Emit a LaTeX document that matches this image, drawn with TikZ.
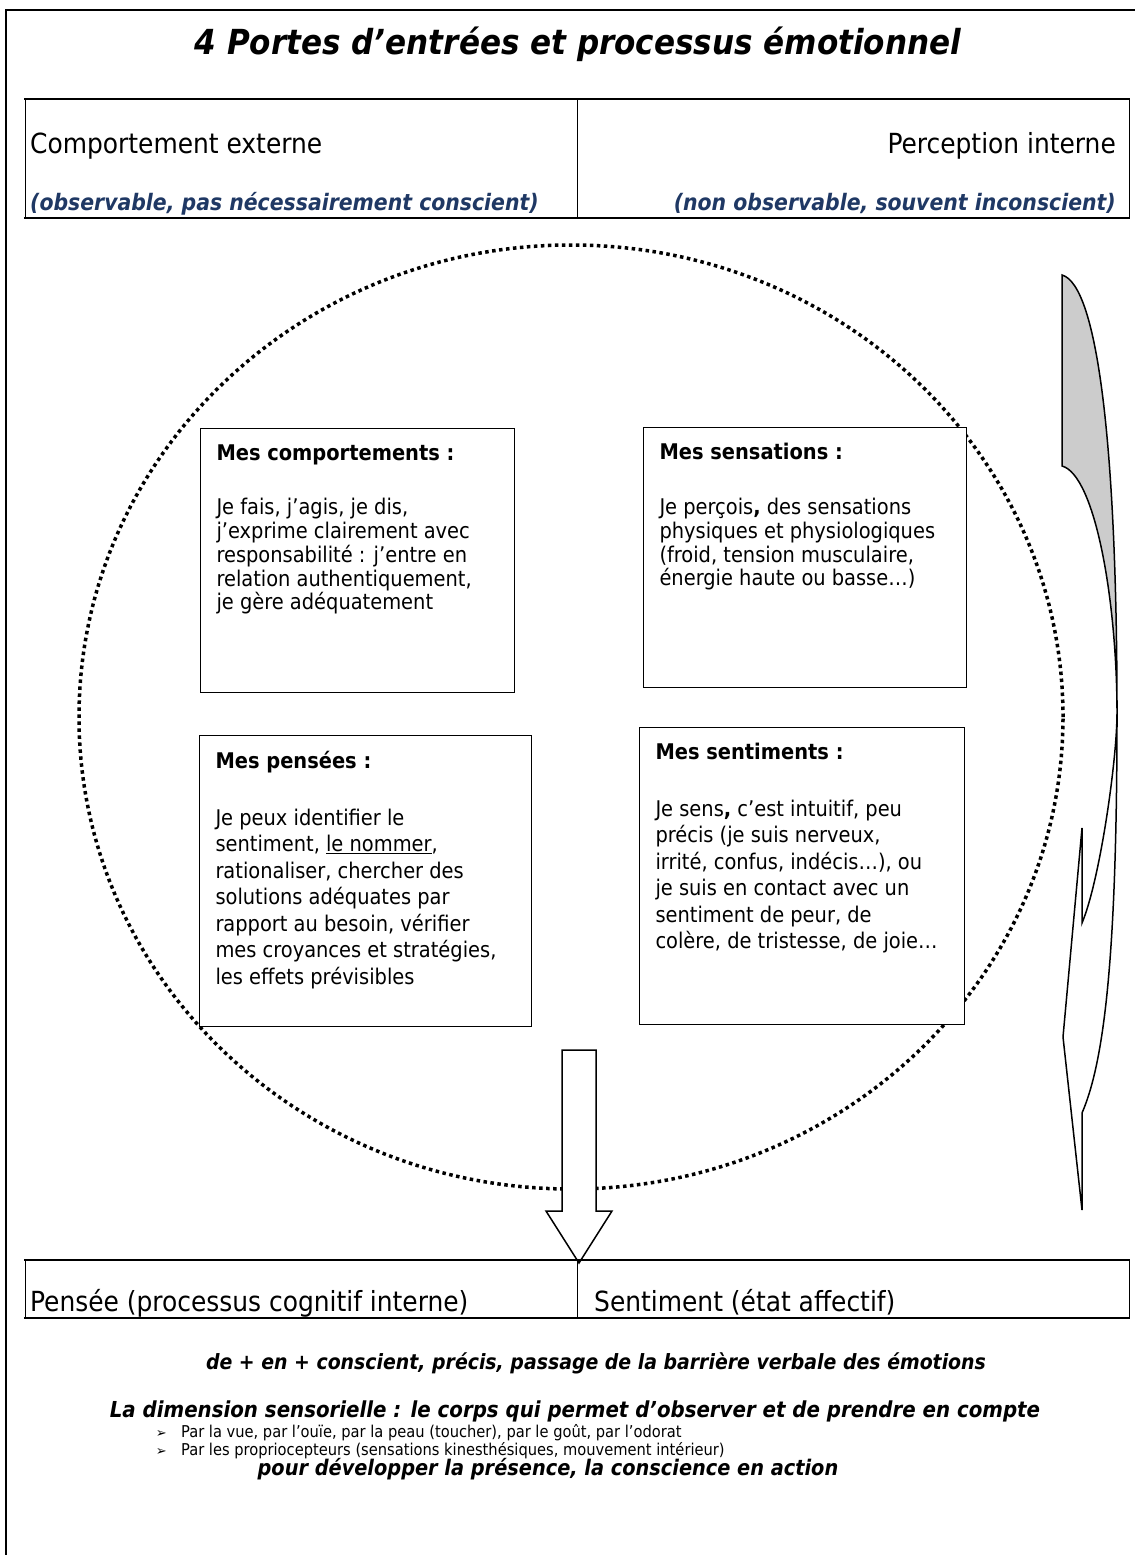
\documentclass[tikz,border=0pt]{standalone}
\usepackage{fontspec}
\setmainfont{DejaVu Sans Condensed}
\newfontfamily\puce{DejaVu Sans}
\usetikzlibrary{positioning}
\definecolor{navy}{RGB}{31,56,100}

\begin{document}
\begin{tikzpicture}[x=1pt,y=-1pt,
  txt/.style={inner sep=0pt},
  lbl/.style={txt,font=\fontsize{27.7}{32}\selectfont},
  sub/.style={txt,text=navy,font=\bfseries\itshape\fontsize{22.7}{26}\selectfont},
  note/.style={txt,font=\bfseries\itshape\fontsize{21.5}{24}\selectfont},
  puces/.style={txt,font=\fontsize{16.3}{18}\selectfont},
  card/.style={draw,line width=1pt,fill=white,anchor=north west,inner xsep=16pt,inner ysep=0pt}]

\useasboundingbox (0,0) rectangle (1135,1555);
\draw[line width=2pt] (6,1555) -- (6,10) -- (1135,10);

\node[txt,anchor=base,font=\bfseries\itshape\fontsize{34.5}{40}\selectfont] (titre) at (578,55)
  {4 Portes d’entrées et processus émotionnel};

% tableau du haut
\draw[line width=1pt] (25,99) -- (25,218) (577,99) -- (577,218) (1129,99) -- (1129,218);
\draw[line width=1.5pt] (24,99) -- (1130,99);
\draw[line width=2.5pt] (24,218) -- (1130,218);
\node[lbl,anchor=base west] (externe) at (30,153) {Comportement externe};
\node[lbl,anchor=base east] (interne) at (1116,153) {Perception interne};
\node[sub,anchor=base west] (observable) at (30,210) {(observable, pas nécessairement conscient)};
\node[sub,anchor=base east] (nonobservable) at (1116,210) {(non observable, souvent inconscient)};

% cercle
\draw[line width=3.5pt,dash pattern=on 3.5pt off 3.5pt] (571,717) ellipse [x radius=492pt,y radius=472pt];

\node[card] (comportements) at (200,428) {\parbox[c][264pt][t]{282pt}{\raggedright
  \fontsize{21.6}{23.7}\selectfont\vspace*{16pt}\textbf{Mes comportements :}\\[31pt]
  Je fais, j’agis, je dis,\\ j’exprime clairement avec\\ responsabilité : j’entre en\\
  relation authentiquement,\\ je gère adéquatement}};
\node[card] (sensations) at (643,427) {\parbox[c][260pt][t]{291pt}{\raggedright
  \fontsize{21.6}{23.7}\selectfont\vspace*{16pt}\textbf{Mes sensations :}\\[31pt]
  Je perçois\textbf{,} des sensations\\ physiques et physiologiques\\ (froid, tension musculaire,\\
  énergie haute ou basse…)}};
\node[card] (pensees) at (199,735) {\parbox[c][291pt][t]{300pt}{\raggedright
  \fontsize{21.6}{26.5}\selectfont\vspace*{16pt}\textbf{Mes pensées :}\\[30pt]
  Je peux identifier le\\ sentiment, \underline{le nommer},\\ rationaliser, chercher des\\
  solutions adéquates par\\ rapport au besoin, vérifier\\ mes croyances et stratégies,\\
  les effets prévisibles}};
\node[card] (sentiments) at (639,727) {\parbox[c][297pt][t]{293pt}{\raggedright
  \fontsize{21.6}{26.5}\selectfont\vspace*{16pt}\textbf{Mes sentiments :}\\[30pt]
  Je sens\textbf{,} c’est intuitif, peu\\ précis (je suis nerveux,\\ irrité, confus, indécis…), ou\\
  je suis en contact avec un\\ sentiment de peur, de\\ colère, de tristesse, de joie…}};

% fleche vers le bas
\draw[line width=1.5pt,fill=white] (562,1050) -- (596,1050) -- (596,1211) -- (612,1211)
  -- (579,1263) -- (546,1211) -- (562,1211) -- cycle;

% fleche courbe a droite
\draw[line width=1.5pt,fill=black!20] (1062,275) .. controls (1098,285) and (1117,450) .. (1117,713)
  .. controls (1117,600) and (1095,475) .. (1062,466) -- cycle;
\draw[line width=1.5pt,fill=white] (1117,713) .. controls (1117,950) and (1105,1060) .. (1082,1113)
  -- (1082,1210) -- (1063,1037) -- (1082,828) -- (1082,923)
  .. controls (1100,880) and (1117,760) .. (1117,713);

% tableau du bas
\draw[line width=1pt] (25,1260) -- (25,1318) (577,1260) -- (577,1318) (1129,1260) -- (1129,1318);
\draw[line width=2pt] (24,1260) -- (1130,1260);
\draw[line width=2.5pt] (24,1318) -- (1130,1318);
\node[lbl,anchor=base west] (pensee) at (30,1311) {Pensée (processus cognitif interne)};
\node[lbl,anchor=base west] (sentiment) at (594,1311) {Sentiment (état affectif)};

\node[note,anchor=base,font=\bfseries\itshape\fontsize{21}{24}\selectfont] (barriere) at (596,1369)
  {de + en + conscient, précis, passage de la barrière verbale des émotions};
\node[note,anchor=base,font=\bfseries\itshape\fontsize{22}{24}\selectfont] (sensorielle) at (575,1417)
  {La dimension sensorielle : le corps qui permet d’observer et de prendre en compte};
\node[puces,anchor=base west] (vue) at (181,1437) {Par la vue, par l’ouïe, par la peau (toucher), par le goût, par l’odorat};
\node[puces,anchor=base west] (proprio) at (181,1455) {Par les propriocepteurs (sensations kinesthésiques, mouvement intérieur)};
\node[puces,anchor=base east,font=\puce\fontsize{13}{15}\selectfont] (p1) at (167,1437) {➢};
\node[puces,anchor=base east,font=\puce\fontsize{13}{15}\selectfont] (p2) at (167,1455) {➢};
\node[note,anchor=base] (presence) at (548,1475) {pour développer la présence, la conscience en action};
\end{tikzpicture}
\end{document}
